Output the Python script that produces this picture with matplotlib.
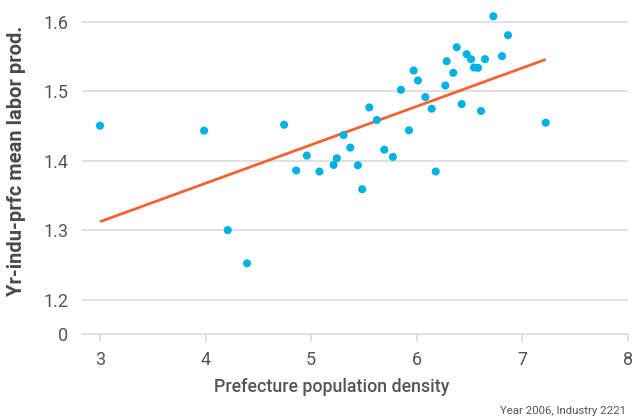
import numpy as np
import matplotlib
matplotlib.use("Agg")
import matplotlib.pyplot as plt

density = [3.00, 3.986, 4.210, 4.393, 4.744, 4.858, 4.959, 5.079, 5.212, 5.243,
           5.306, 5.370, 5.442, 5.483, 5.550, 5.622, 5.692, 5.774, 5.850, 5.926,
           5.970, 6.011, 6.081, 6.141, 6.179, 6.270, 6.283, 6.346, 6.378, 6.425,
           6.472, 6.514, 6.542, 6.580, 6.608, 6.646, 6.725, 6.807, 6.864, 7.221]
labor_prod = [1.4506, 1.4434, 1.3001, 1.2523, 1.4520, 1.3860, 1.4075, 1.3845, 1.3940, 1.4036,
              1.4370, 1.4190, 1.3935, 1.3590, 1.4769, 1.4587, 1.4160, 1.4056, 1.5023, 1.4439,
              1.5300, 1.5157, 1.4918, 1.4750, 1.3845, 1.5085, 1.5435, 1.5267, 1.5636, 1.4817,
              1.5536, 1.5464, 1.5344, 1.5339, 1.4717, 1.5464, 1.6082, 1.5507, 1.5809, 1.4549]

# fitted line (value at x=3 and slope)
fit_intercept_at_3 = 1.3122
fit_slope = 0.0554

x_ticks = [3, 4, 5, 6, 7, 8]
y_ticks = [1.15, 1.2, 1.3, 1.4, 1.5, 1.6]
y_tick_labels = ["0", "1.2", "1.3", "1.4", "1.5", "1.6"]

plt.rcParams['font.family'] = ['Roboto', 'DejaVu Sans']

fig = plt.figure(figsize=(6.32, 4.19), dpi=100)
W, H = 632, 419
left, right, top, bottom = 82, 628, 8, 334.3
ax = fig.add_axes([left / W, 1 - bottom / H, (right - left) / W, (bottom - top) / H])

ax.set_xlim(2.83, 8.0)
y_lo = 1.15
y_hi = 1.6 + (22 - top) / 696
ax.set_ylim(y_lo, y_hi)

grid_c = '#dcdcdc'
for yt in y_ticks[1:]:
    ax.axhline(yt, color=grid_c, lw=1.2, zorder=0)

xs = np.array([min(density), max(density)])
ys = fit_intercept_at_3 + fit_slope * (xs - 3)
ax.plot(xs, ys, color='#F26430', lw=2.0, zorder=2, solid_capstyle='butt')

ax.scatter(density, labor_prod, s=34, color='#00B2E3', edgecolors='none', zorder=3)

for s in ['top', 'right', 'left']:
    ax.spines[s].set_visible(False)
ax.spines['bottom'].set_color(grid_c)
ax.spines['bottom'].set_linewidth(1.2)

ax.set_xticks(x_ticks)
ax.set_yticks(y_ticks)
ax.set_yticklabels(y_tick_labels)
ax.tick_params(axis='x', length=6, width=1.2, color=grid_c, labelsize=13,
               labelcolor='#555555', pad=6)
ax.tick_params(axis='y', length=0, labelsize=13, labelcolor='#555555', pad=10)

fig.text(332 / W, 1 - 387 / H, 'Prefecture population density', ha='center', va='center',
         fontsize=12.8, color='#555555', fontweight='medium')
fig.text(17 / W, 1 - 161 / H, 'Yr-indu-prfc mean labor prod.', ha='center', va='center',
         rotation=90, fontsize=14.5, color='#4a4a4a', fontweight='bold')

fig.text(626 / W, 1 - 411 / H, 'Year 2006, Industry 2221', ha='right', va='center',
         fontsize=8.2, color='#555555')

fig.savefig('out.png', dpi=100)
